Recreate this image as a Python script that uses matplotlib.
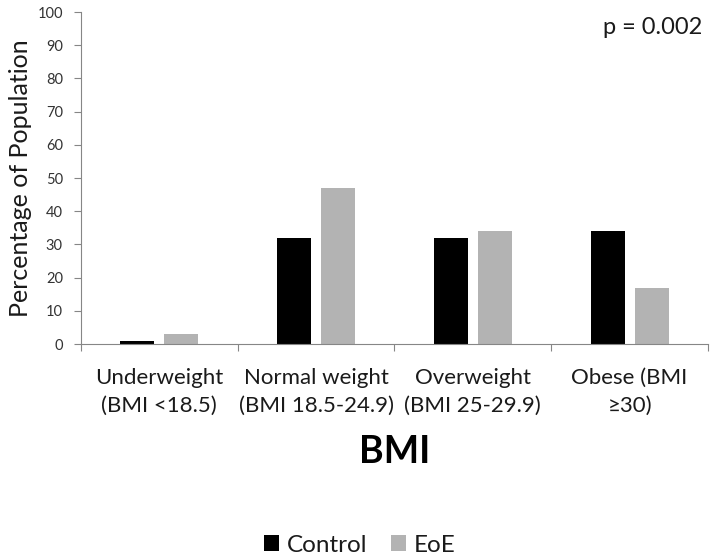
import numpy as np
import matplotlib.pyplot as plt

plt.rcParams['font.family'] = ['Lato', 'DejaVu Sans']

categories = ["Underweight\n(BMI <18.5)", "Normal weight\n(BMI 18.5-24.9)",
              "Overweight\n(BMI 25-29.9)", "Obese (BMI\n≥30)"]
control = [1, 32, 32, 34]
eoe = [3, 47, 34, 17]

txt = '#1a1a1a'
grid_grey = '#868686'

fig = plt.figure(figsize=(7.14, 5.59), dpi=100)
ax = fig.add_axes([0.1134, 0.3846, 0.8782, 0.5939])

x = np.arange(len(categories))
w = 0.217
ax.bar(x - 0.14, control, w, color='black', label='Control')
ax.bar(x + 0.14, eoe, w, color='#b3b3b3', label='EoE')

ax.set_xlim(-0.5, 3.5)
ax.set_ylim(0, 100)
ax.set_yticks(range(0, 101, 10))
ax.set_xticks(np.arange(-0.5, 4, 1))
ax.set_xticklabels([])
ax.set_xticks(x, minor=True)
ax.set_xticklabels(categories, minor=True, fontsize=16, color=txt, linespacing=1.5)
ax.tick_params(axis='x', which='minor', length=0, pad=17.5)
ax.tick_params(axis='x', which='major', length=5, direction='out', color=grid_grey)
ax.tick_params(axis='y', length=5, direction='out', color=grid_grey, labelsize=10.5,
               labelcolor='#333333', pad=8)
for s in ['top', 'right']:
    ax.spines[s].set_visible(False)
for s in ['left', 'bottom']:
    ax.spines[s].set_color(grid_grey)

ax.set_ylabel("Percentage of Population", fontsize=18, color=txt)
ax.yaxis.set_label_coords(-0.078, 0.5)
ax.set_xlabel("BMI", fontsize=27, fontweight='bold', color='black', va='center')
ax.xaxis.set_label_coords(0.5, -0.325)
ax.text(0.991, 0.985, "p = 0.002", transform=ax.transAxes, ha='right', va='top',
        fontsize=17, color=txt)

fig.legend(loc='center', bbox_to_anchor=(0.504, 0.025), ncol=2, frameon=False,
           fontsize=17.5, handlelength=0.62, handleheight=0.62, handletextpad=0.33,
           columnspacing=0.95, labelcolor=txt)

fig.savefig("out.png", dpi=100)
